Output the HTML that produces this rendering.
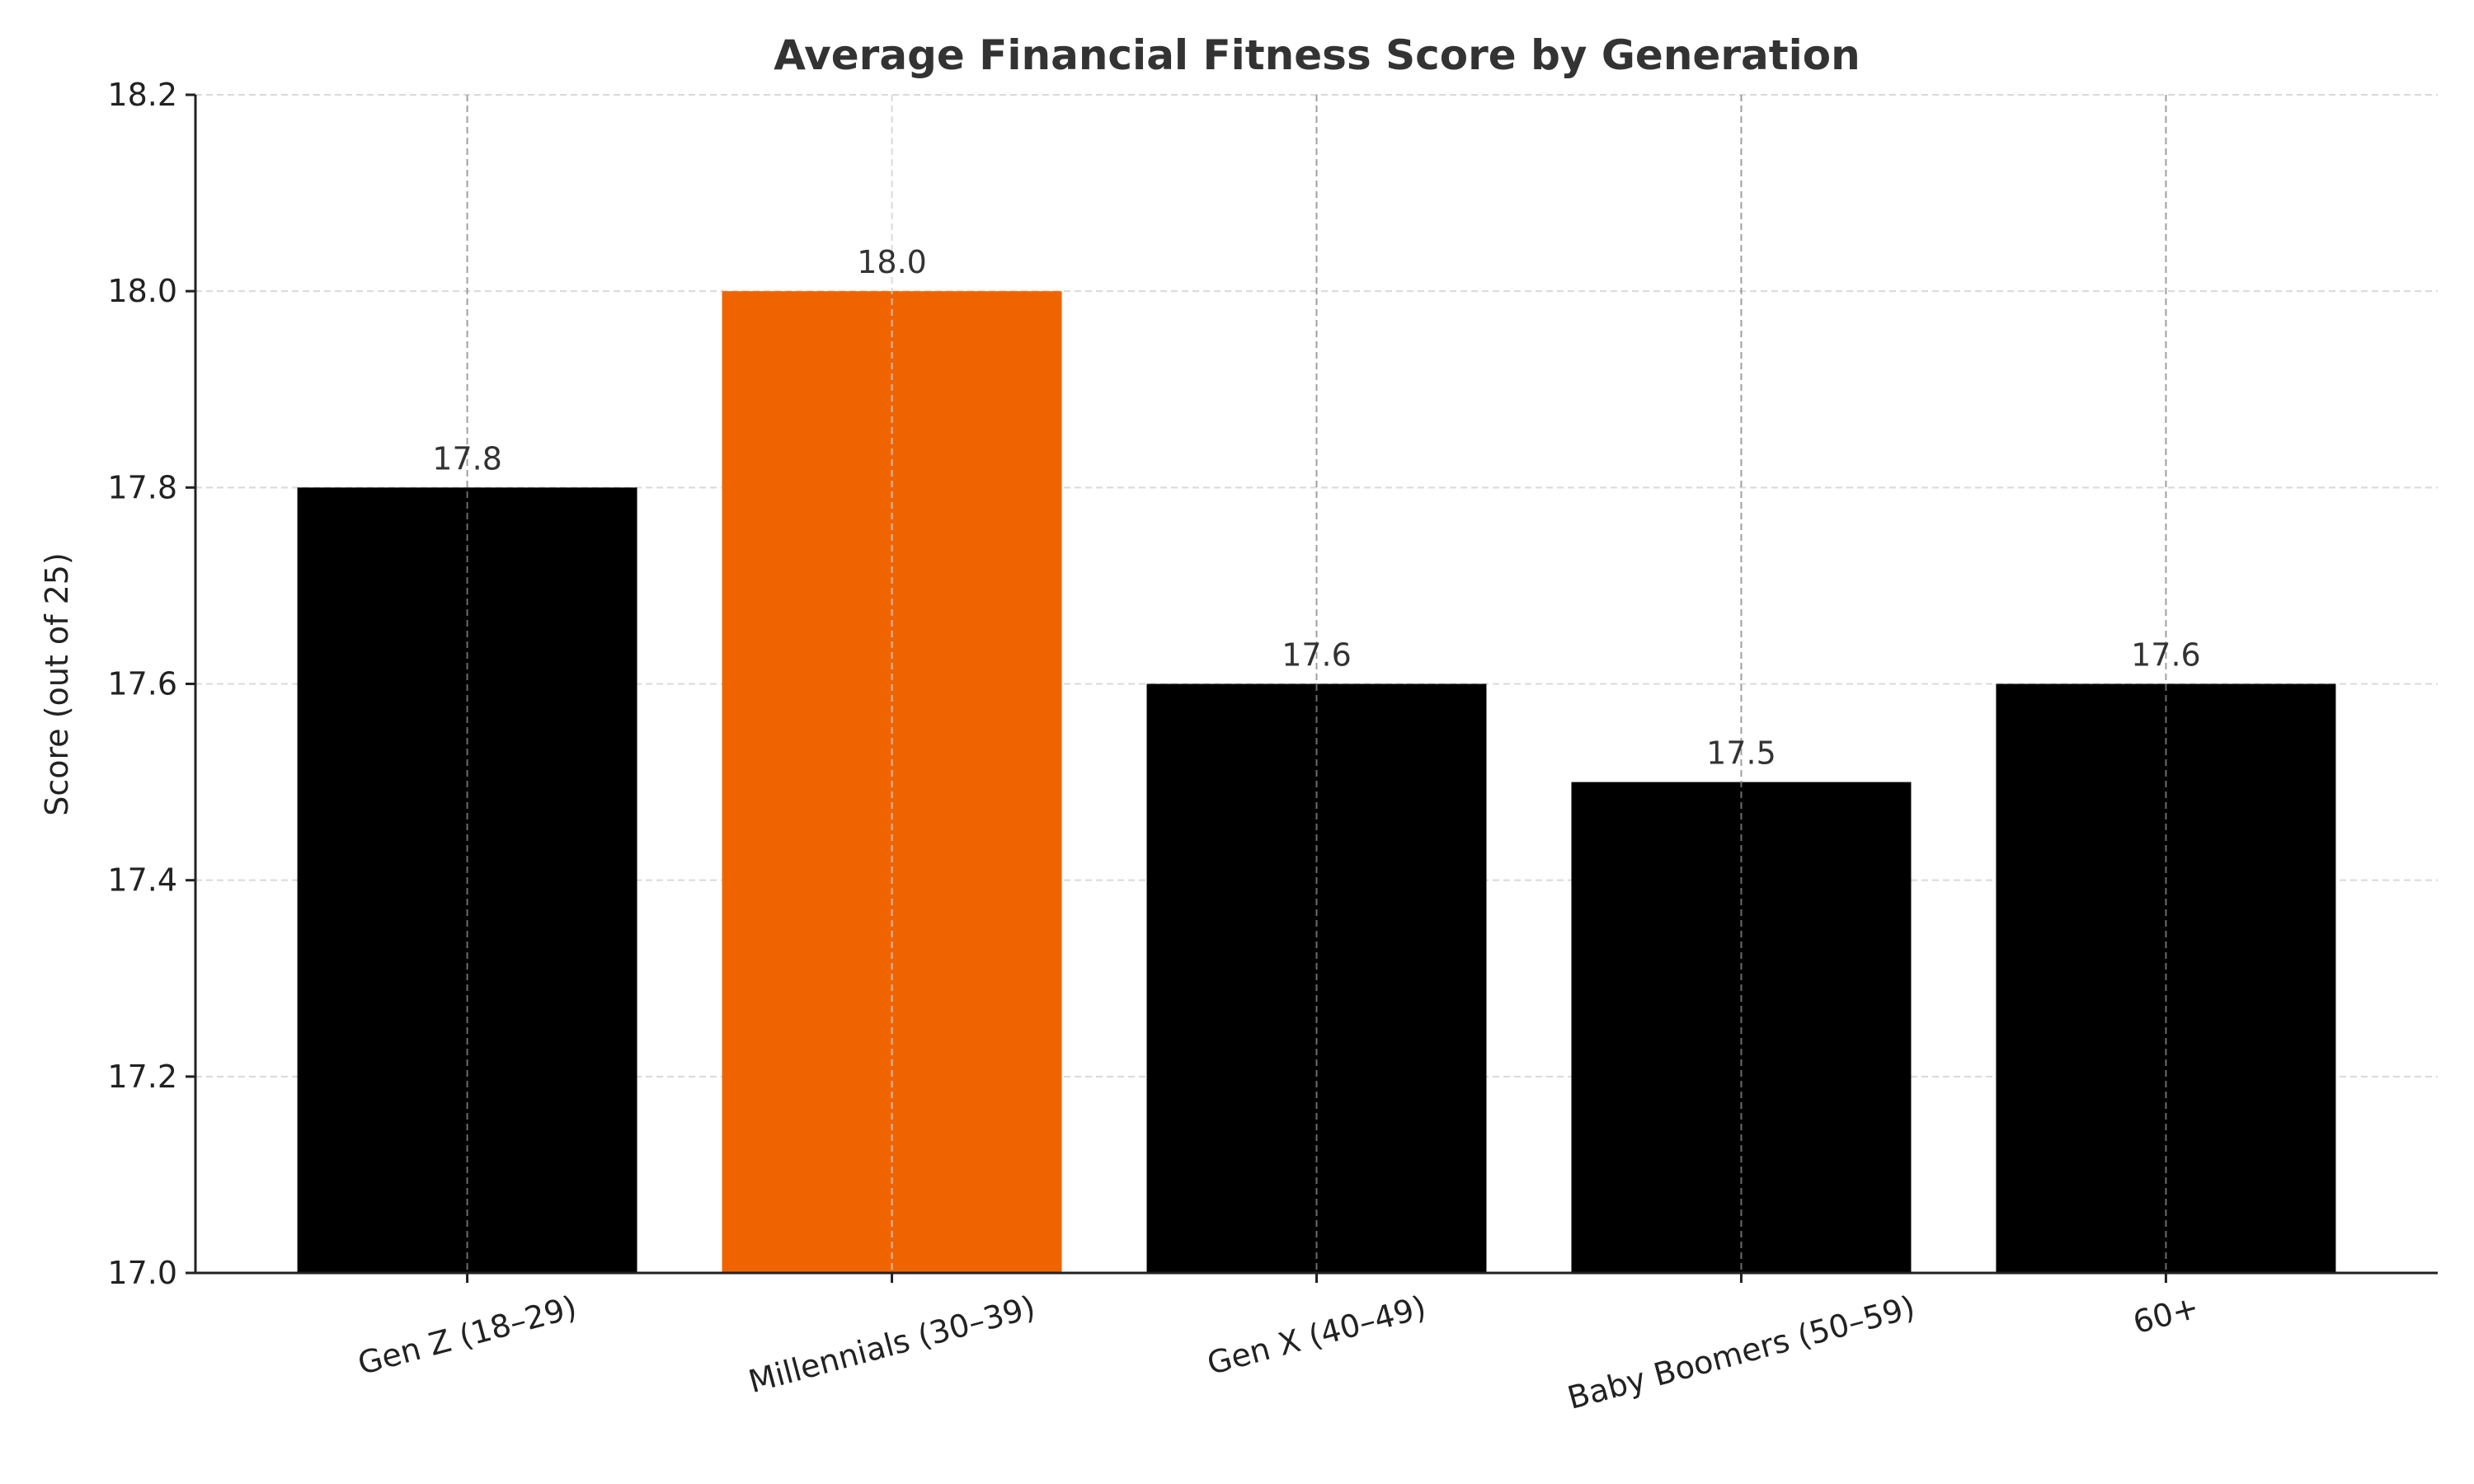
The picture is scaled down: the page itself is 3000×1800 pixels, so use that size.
<!DOCTYPE html>
<html><head><meta charset="utf-8"><style>
html,body{margin:0;padding:0;background:#fff;}
svg{display:block;font-family:"DejaVu Sans","Liberation Sans",sans-serif;}
</style></head><body>
<svg id="chart" width="3000" height="1800" viewBox="0 0 3000 1800" xmlns="http://www.w3.org/2000/svg">
<rect x="0" y="0" width="3000" height="1800" fill="#fff"/>
<text x="1597" y="84" text-anchor="middle" font-size="50" font-weight="bold" fill="#333">Average Financial Fitness Score by Generation</text>
<text transform="translate(82,830) rotate(-90)" text-anchor="middle" font-size="38" fill="#222">Score (out of 25)</text>
<g id="grid"></g>
<g id="bars"></g>
<g id="axes"></g>
</svg>
<script>
const categories = ["Gen Z (18–29)", "Millennials (30–39)", "Gen X (40–49)", "Baby Boomers (50–59)", "60+"];
const values = [17.8, 18.0, 17.6, 17.5, 17.6];
const valueLabels = ["17.8", "18.0", "17.6", "17.5", "17.6"];
const yTicks = [17.0, 17.2, 17.4, 17.6, 17.8, 18.0, 18.2];
const yTickLabels = ["17.0", "17.2", "17.4", "17.6", "17.8", "18.0", "18.2"];
const highlightIndex = 1;

const NS = "http://www.w3.org/2000/svg";
const L = 237, R = 2956, T = 115, B = 1544;
const yMin = 17.0, yMax = 18.2;
const xMin = -0.64, xMax = categories.length - 1 + 0.64;
function xs(i){ return L + (i - xMin) / (xMax - xMin) * (R - L); }
function ys(v){ return B - (v - yMin) / (yMax - yMin) * (B - T); }
const step = xs(1) - xs(0);
const bw = step * 0.8;
function mk(tag, attrs, parent){
  const e = document.createElementNS(NS, tag);
  for (const k in attrs) e.setAttribute(k, attrs[k]);
  parent.appendChild(e);
  return e;
}
const grid = document.getElementById("grid");
const bars = document.getElementById("bars");
const axes = document.getElementById("axes");

yTicks.forEach((t, i) => {
  const y = ys(t);
  const gl = mk("line", {x1: L, x2: R, y1: y, y2: y, stroke: "#d9d9d9", "stroke-width": 2, "stroke-dasharray": "8,5"}, grid);
  
  
  const tk = mk("line", {x1: L - 12, x2: L, y1: y, y2: y, stroke: "#222", "stroke-width": 3}, axes);
  
  
  const tl = mk("text", {x: L - 22, y: y + 13, "text-anchor": "end", "font-size": 38, fill: "#222"}, axes);
  tl.textContent = yTickLabels[i];
  
  
});

categories.forEach((c, i) => {
  const cx = xs(i);
  const y = ys(values[i]);
  const r = mk("rect", {x: cx - bw/2, y: y, width: bw, height: B - y, fill: i === highlightIndex ? "#f06400" : "#000"}, bars);
  
  
  const vg = mk("line", {x1: cx, x2: cx, y1: T, y2: B, stroke: i === highlightIndex ? "#d0d0d0" : "#888", "stroke-width": 2, "stroke-dasharray": "8,5", opacity: 0.8}, bars);
  
  
  const vl = mk("text", {x: cx, y: y - 22, "text-anchor": "middle", "font-size": 38, fill: "#333"}, bars);
  vl.textContent = valueLabels[i];
  
  
  const tk = mk("line", {x1: cx, x2: cx, y1: B, y2: B + 12, stroke: "#222", "stroke-width": 3}, axes);
  
  
  const xl = mk("text", {x: 0, y: 0, "text-anchor": "middle", "font-size": 38, fill: "#222"}, axes);
  xl.textContent = c;
  
  
  const w = xl.getComputedTextLength();
  const h = 38;
  const a = 15 * Math.PI / 180;
  const bbH = w * Math.sin(a) + h * Math.cos(a);
  const cy = B + 22 + bbH / 2;
  xl.setAttribute("transform", "translate(" + cx + "," + cy + ") rotate(-15)");
  xl.setAttribute("y", 13);
});

const la = mk("line", {x1: L, x2: L, y1: T, y2: B, stroke: "#222", "stroke-width": 3}, axes);


const ba = mk("line", {x1: L, x2: R, y1: B, y2: B, stroke: "#222", "stroke-width": 3}, axes);


</script>
</body></html>
